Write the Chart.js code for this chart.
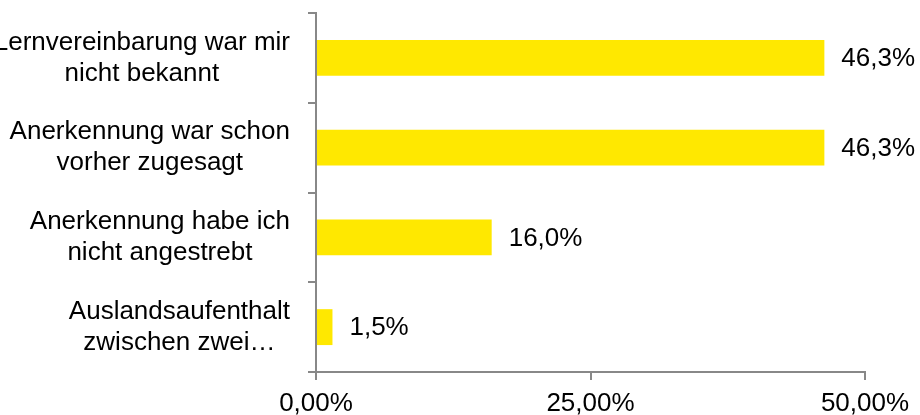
<!DOCTYPE html>
<html lang="de">
<head>
  <meta charset="UTF-8" />
  <title>Anerkennung</title>
  <style>
    html, body { margin: 0; padding: 0; background: #ffffff; }
    #wrap { width: 920px; height: 415px; position: relative; }
  </style>
</head>
<body>
  <div id="wrap"><canvas id="chart"></canvas></div>

  <script src="https://cdn.jsdelivr.net/npm/chart.js"></script>
  <script>
    const categories = [
      ["Lernvereinbarung war mir", "nicht bekannt"],
      ["Anerkennung war schon", "vorher zugesagt"],
      ["Anerkennung habe ich", "nicht angestrebt"],
      ["Auslandsaufenthalt", "zwischen zwei…"]
    ];
    const values = [46.3, 46.3, 16.0, 1.5];
    const xTicks = [0, 25, 50];

    const FONT = "'Liberation Sans', Arial, sans-serif";
    const AXIS = "#888888";

    function pct(v, digits) {
      return v.toFixed(digits).replace(".", ",") + "%";
    }

    // category labels: block right-aligned, lines centered inside the block
    const categoryLabels = {
      id: "categoryLabels",
      afterDraw(chart) {
        const ctx = chart.ctx;
        const y = chart.scales.y;
        const right = chart.chartArea.left - 26;
        const lineH = 31;
        ctx.save();
        ctx.font = "26px " + FONT;
        ctx.fillStyle = "#000";
        ctx.textAlign = "center";
        ctx.textBaseline = "middle";
        categories.forEach((lines, i) => {
          const w = Math.max(...lines.map(l => ctx.measureText(l).width));
          const cx = right - w / 2;
          const cy = y.getPixelForTick(i);
          lines.forEach((l, j) => {
            ctx.fillText(l, cx, cy + (j - (lines.length - 1) / 2) * lineH);
          });
        });
        ctx.restore();
      }
    };

    // value labels right of each bar
    const valueLabels = {
      id: "valueLabels",
      afterDatasetsDraw(chart) {
        const ctx = chart.ctx;
        const meta = chart.getDatasetMeta(0);
        ctx.save();
        ctx.font = "26px " + FONT;
        ctx.fillStyle = "#000";
        ctx.textAlign = "left";
        ctx.textBaseline = "middle";
        meta.data.forEach((bar, i) => {
          ctx.fillText(pct(values[i], 1), bar.x + 17, bar.y + 1);
        });
        ctx.restore();
      }
    };

    new Chart(document.getElementById("chart"), {
      type: "bar",
      data: {
        labels: categories,
        datasets: [{
          data: values,
          backgroundColor: "#ffe800",
          borderWidth: 0,
          barPercentage: 0.4,
          categoryPercentage: 1.0
        }]
      },
      options: {
        indexAxis: "y",
        responsive: true,
        maintainAspectRatio: false,
        animation: false,
        layout: { padding: { top: 13, right: 55, bottom: 0, left: 0 } },
        plugins: { legend: { display: false }, tooltip: { enabled: false } },
        scales: {
          x: {
            min: 0,
            max: 50,
            afterBuildTicks(scale) { scale.ticks = xTicks.map(v => ({ value: v })); },
            afterFit(scale) { scale.height = 43; },
            ticks: {
              font: { family: FONT, size: 26 },
              color: "#000",
              padding: 8,
              maxRotation: 0,
              callback: v => pct(v, 2)
            },
            grid: { drawOnChartArea: false, color: AXIS, lineWidth: 2, tickLength: 8 },
            border: { color: AXIS, width: 2 }
          },
          y: {
            afterFit(scale) { scale.width = 316; },
            ticks: { display: false },
            grid: { drawOnChartArea: false, color: AXIS, lineWidth: 2, tickLength: 8, offset: true },
            border: { color: AXIS, width: 2 }
          }
        }
      },
      plugins: [categoryLabels, valueLabels]
    });
  </script>
</body>
</html>
